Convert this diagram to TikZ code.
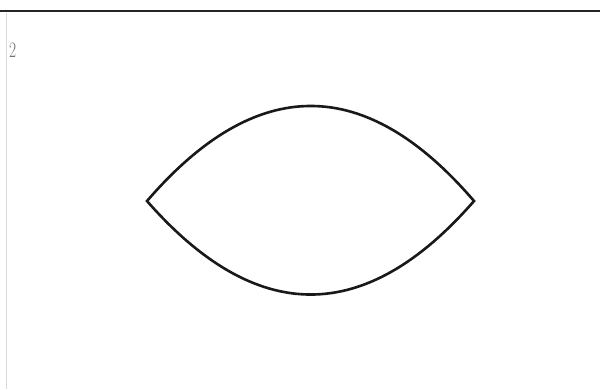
\documentclass[tikz,border=0pt]{standalone}
\begin{document}
\begin{tikzpicture}[x=1pt,y=-1pt,
  lensline/.style={line width=2.6pt,line join=miter,black!90},
  ruleline/.style={line width=2.4pt,black!85},
  numlabel/.style={inner sep=0pt,anchor=north west,text=black!55,font=\fontsize{22}{22}\selectfont,xscale=0.7}]
\useasboundingbox (0,0) rectangle (600,389);
\fill[white] (0,0) rectangle (600,389);
\coordinate (rl) at (0,11);
\coordinate (rr) at (600,11);
\draw[ruleline] (rl) -- (rr);
\coordinate (vl1) at (6,13);
\coordinate (vl2) at (6,389);
\draw[black!15,line width=0.8pt] (vl1) -- (vl2);
\node[numlabel] (num) at (9,43) {2};
\coordinate (L) at (147,201);
\coordinate (R) at (474,201);
\draw[lensline] (L) .. controls (256.3,74.3) and (365.3,74.3) .. (R)
  .. controls (365.3,325.7) and (256.3,325.7) .. cycle;
\end{tikzpicture}
\end{document}
